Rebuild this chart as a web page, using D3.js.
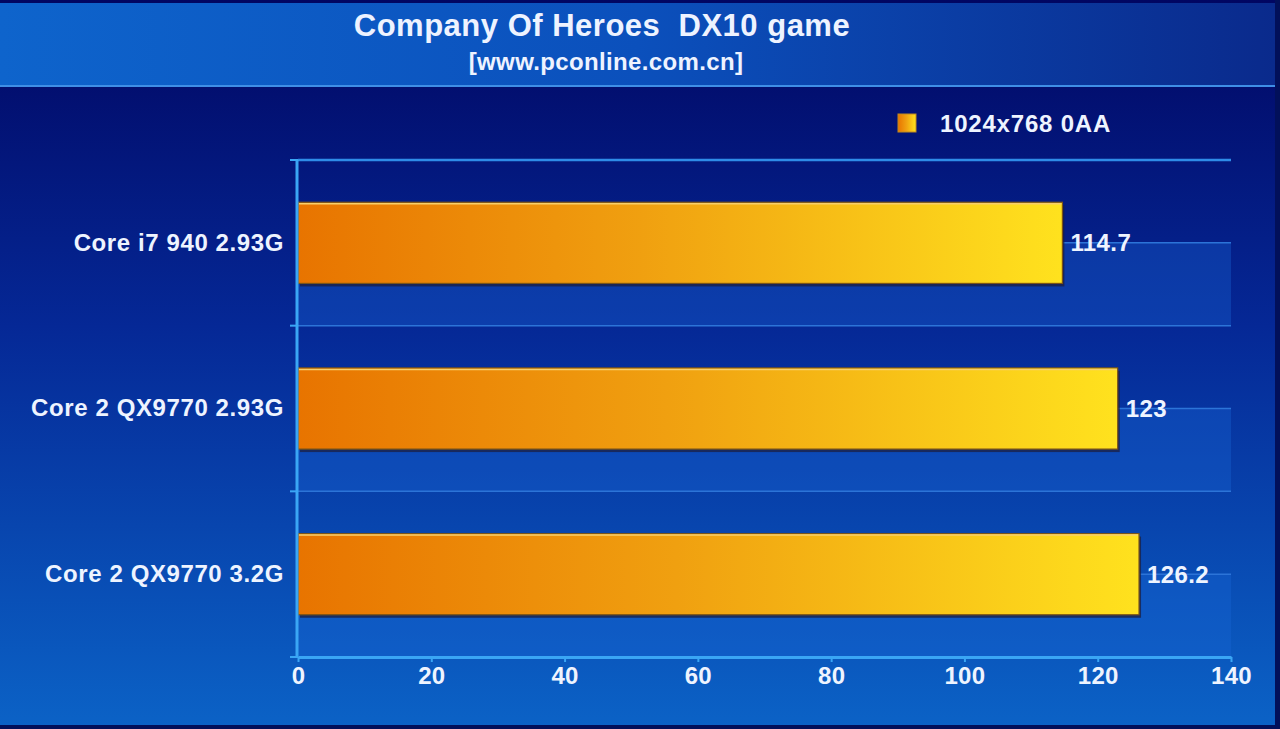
<!DOCTYPE html>
<html>
<head>
<meta charset="utf-8">
<script src="https://cdn.jsdelivr.net/npm/d3@7"></script>
<style>
  html, body { margin: 0; padding: 0; background: #02105a; }
  text { font-family: "Liberation Sans", Arial, sans-serif; font-weight: bold; white-space: pre; }
</style>
</head>
<body>
<div id="chart"></div>
<script>
// Data
const categories = ["Core i7 940 2.93G", "Core 2 QX9770 2.93G", "Core 2 QX9770 3.2G"];
const values = [114.7, 123, 126.2];
const xTicks = [0, 20, 40, 60, 80, 100, 120, 140];
const seriesName = "1024x768 0AA";
const titleText = "Company Of Heroes  DX10 game";
const subtitleText = "[www.pconline.com.cn]";

const W = 1280, H = 729;
const plot = { left: 298, right: 1231, top: 160, bottom: 657 };

var svg = d3.select("#chart")
    .append("svg")
    .attr("width", W)
    .attr("height", H)
    .style("display", "block");

var defs = svg.append("defs");

// background gradient (navy -> blue)
var bg = defs.append("linearGradient").attr("id", "bgGrad")
    .attr("x1", 0).attr("y1", 0).attr("x2", 0).attr("y2", 1);
bg.append("stop").attr("offset", "0%").attr("stop-color", "#010662");
bg.append("stop").attr("offset", "45%").attr("stop-color", "#052896");
bg.append("stop").attr("offset", "100%").attr("stop-color", "#0b62c6");

// title band gradient
var tg = defs.append("linearGradient").attr("id", "titleGrad")
    .attr("x1", 0).attr("y1", 0).attr("x2", 1).attr("y2", 0);
tg.append("stop").attr("offset", "0%").attr("stop-color", "#0e64cc");
tg.append("stop").attr("offset", "50%").attr("stop-color", "#0b50bc");
tg.append("stop").attr("offset", "100%").attr("stop-color", "#0a2a8c");

// bar gradient orange -> yellow
var barGrad = defs.append("linearGradient").attr("id", "barGrad")
    .attr("x1", 0).attr("y1", 0).attr("x2", 1).attr("y2", 0);
barGrad.append("stop").attr("offset", "0%").attr("stop-color", "#e87400");
barGrad.append("stop").attr("offset", "45%").attr("stop-color", "#f0a010");
barGrad.append("stop").attr("offset", "100%").attr("stop-color", "#ffe21e");

// Backgrounds
svg.append("rect")
    .attr("x", 0).attr("y", 0).attr("width", W - 5).attr("height", H - 4)
    .attr("fill", "url(#bgGrad)");

svg.append("rect")
    .attr("x", 0).attr("y", 3).attr("width", W - 5).attr("height", 83)
    .attr("fill", "url(#titleGrad)");

svg.append("line")
    .attr("x1", 0).attr("x2", W - 5).attr("y1", 86).attr("y2", 86)
    .attr("stroke", "#3f8fe6").attr("stroke-width", 2);

// Title
svg.append("text")
    .attr("x", 602).attr("y", 36)
    .attr("text-anchor", "middle")
    .attr("font-size", 31)
    .attr("letter-spacing", 0.5)
    .attr("fill", "#eef3ff")
    .text(titleText);

svg.append("text")
    .attr("x", 606).attr("y", 70)
    .attr("text-anchor", "middle")
    .attr("font-size", 24)
    .attr("letter-spacing", 0.35)
    .attr("fill", "#eef3ff")
    .text(subtitleText);

// Scales
var x = d3.scaleLinear()
    .domain([0, 140])
    .range([plot.left, plot.right]);

// full category bands (for background stripes)
var yBand = d3.scaleBand()
    .domain(categories)
    .range([plot.top, plot.bottom])
    .padding(0);

// bar positions inside the bands
var y = d3.scaleBand()
    .domain(categories)
    .range([plot.top, plot.bottom])
    .paddingInner(0.51)
    .paddingOuter(0.255);

// lighter lower-half stripes
svg.append("g")
    .selectAll("rect")
    .data(categories)
    .join("rect")
    .attr("x", x(0))
    .attr("y", d => yBand(d) + yBand.bandwidth() / 2)
    .attr("width", x(140) - x(0))
    .attr("height", yBand.bandwidth() / 2)
    .attr("fill", "#1a66d6")
    .attr("fill-opacity", 0.35);

// gridlines (band edges and middles)
var gridYs = [];
categories.forEach(function (c) {
    gridYs.push(yBand(c));
    gridYs.push(yBand(c) + yBand.bandwidth() / 2);
});

svg.append("g")
    .selectAll("line")
    .data(gridYs)
    .join("line")
    .attr("x1", x(0))
    .attr("x2", x(140))
    .attr("y1", d => d)
    .attr("y2", d => d)
    .attr("stroke", (d, i) => i === 0 ? "#2f8ce8" : "#2c74d8")
    .attr("stroke-width", (d, i) => i === 0 ? 2.5 : 1.5);

// Bars: shadow then bar
var bars = svg.append("g");

bars.selectAll("rect.shadow")
    .data(values)
    .join("rect")
    .attr("class", "shadow")
    .attr("x", x(0) + 2)
    .attr("y", (d, i) => y(categories[i]) + 3)
    .attr("width", d => x(d) - x(0))
    .attr("height", y.bandwidth())
    .attr("fill", "#1c1f40")
    .attr("fill-opacity", 0.75);

bars.selectAll("rect.bar")
    .data(values)
    .join("rect")
    .attr("class", "bar")
    .attr("x", x(0))
    .attr("y", (d, i) => y(categories[i]))
    .attr("width", d => x(d) - x(0))
    .attr("height", y.bandwidth())
    .attr("fill", "url(#barGrad)")
    .attr("stroke", "#7a5418")
    .attr("stroke-width", 1.2);

// light top edge of bars
bars.selectAll("line.hl")
    .data(values)
    .join("line")
    .attr("class", "hl")
    .attr("x1", x(0) + 1)
    .attr("x2", d => x(d) - 1)
    .attr("y1", (d, i) => y(categories[i]) + 1.5)
    .attr("y2", (d, i) => y(categories[i]) + 1.5)
    .attr("stroke", "#f8cf6a")
    .attr("stroke-width", 1.5);

// Value labels
svg.append("g")
    .selectAll("text")
    .data(values)
    .join("text")
    .attr("x", d => x(d) + 8)
    .attr("y", (d, i) => y(categories[i]) + y.bandwidth() / 2)
    .attr("dy", "0.36em")
    .attr("font-size", 24)
    .attr("letter-spacing", 0.4)
    .attr("fill", "#eef4ff")
    .text(d => d);

// Y axis
var yAxis = svg.append("g")
    .attr("transform", `translate(${x(0) - 1}, 0)`)
    .call(d3.axisLeft(yBand).tickSize(0).tickPadding(13));

yAxis.select(".domain").remove();
yAxis.selectAll("text")
    .attr("font-size", 24)
    .attr("letter-spacing", 0.6)
    .attr("fill", "#eef4ff")
    .attr("font-family", null);

var yEdges = [plot.top].concat(categories.map(c => yBand(c) + yBand.bandwidth()));
svg.append("g")
    .selectAll("line")
    .data(yEdges)
    .join("line")
    .attr("x1", x(0) - 8)
    .attr("x2", x(0))
    .attr("y1", d => d)
    .attr("y2", d => d)
    .attr("stroke", "#3aa6f5")
    .attr("stroke-width", 2);

svg.append("line")
    .attr("x1", x(0) - 1).attr("x2", x(0) - 1)
    .attr("y1", plot.top).attr("y2", plot.bottom)
    .attr("stroke", "#3aa6f5")
    .attr("stroke-width", 3);

// X axis
var xAxis = svg.append("g")
    .attr("transform", `translate(0, ${plot.bottom})`)
    .call(d3.axisBottom(x).tickValues(xTicks).tickSize(5).tickPadding(5).tickSizeOuter(0));

xAxis.select(".domain")
    .attr("stroke", "#3aa6f5")
    .attr("stroke-width", 3);
xAxis.selectAll(".tick line")
    .attr("stroke", "#3aa6f5")
    .attr("stroke-width", 2);
xAxis.selectAll("text")
    .attr("font-size", 24)
    .attr("letter-spacing", 0.3)
    .attr("fill", "#eef4ff")
    .attr("font-family", null);

// Legend
var legend = svg.append("g").attr("transform", "translate(898, 114)");
legend.append("rect")
    .attr("width", 18).attr("height", 18)
    .attr("fill", "url(#barGrad)")
    .attr("stroke", "#c08a20")
    .attr("stroke-width", 1);
legend.append("text")
    .attr("x", 42).attr("y", 9)
    .attr("dy", "0.36em")
    .attr("font-size", 24)
    .attr("letter-spacing", 0.8)
    .attr("fill", "#eef4ff")
    .text(seriesName);
</script>
</body>
</html>
